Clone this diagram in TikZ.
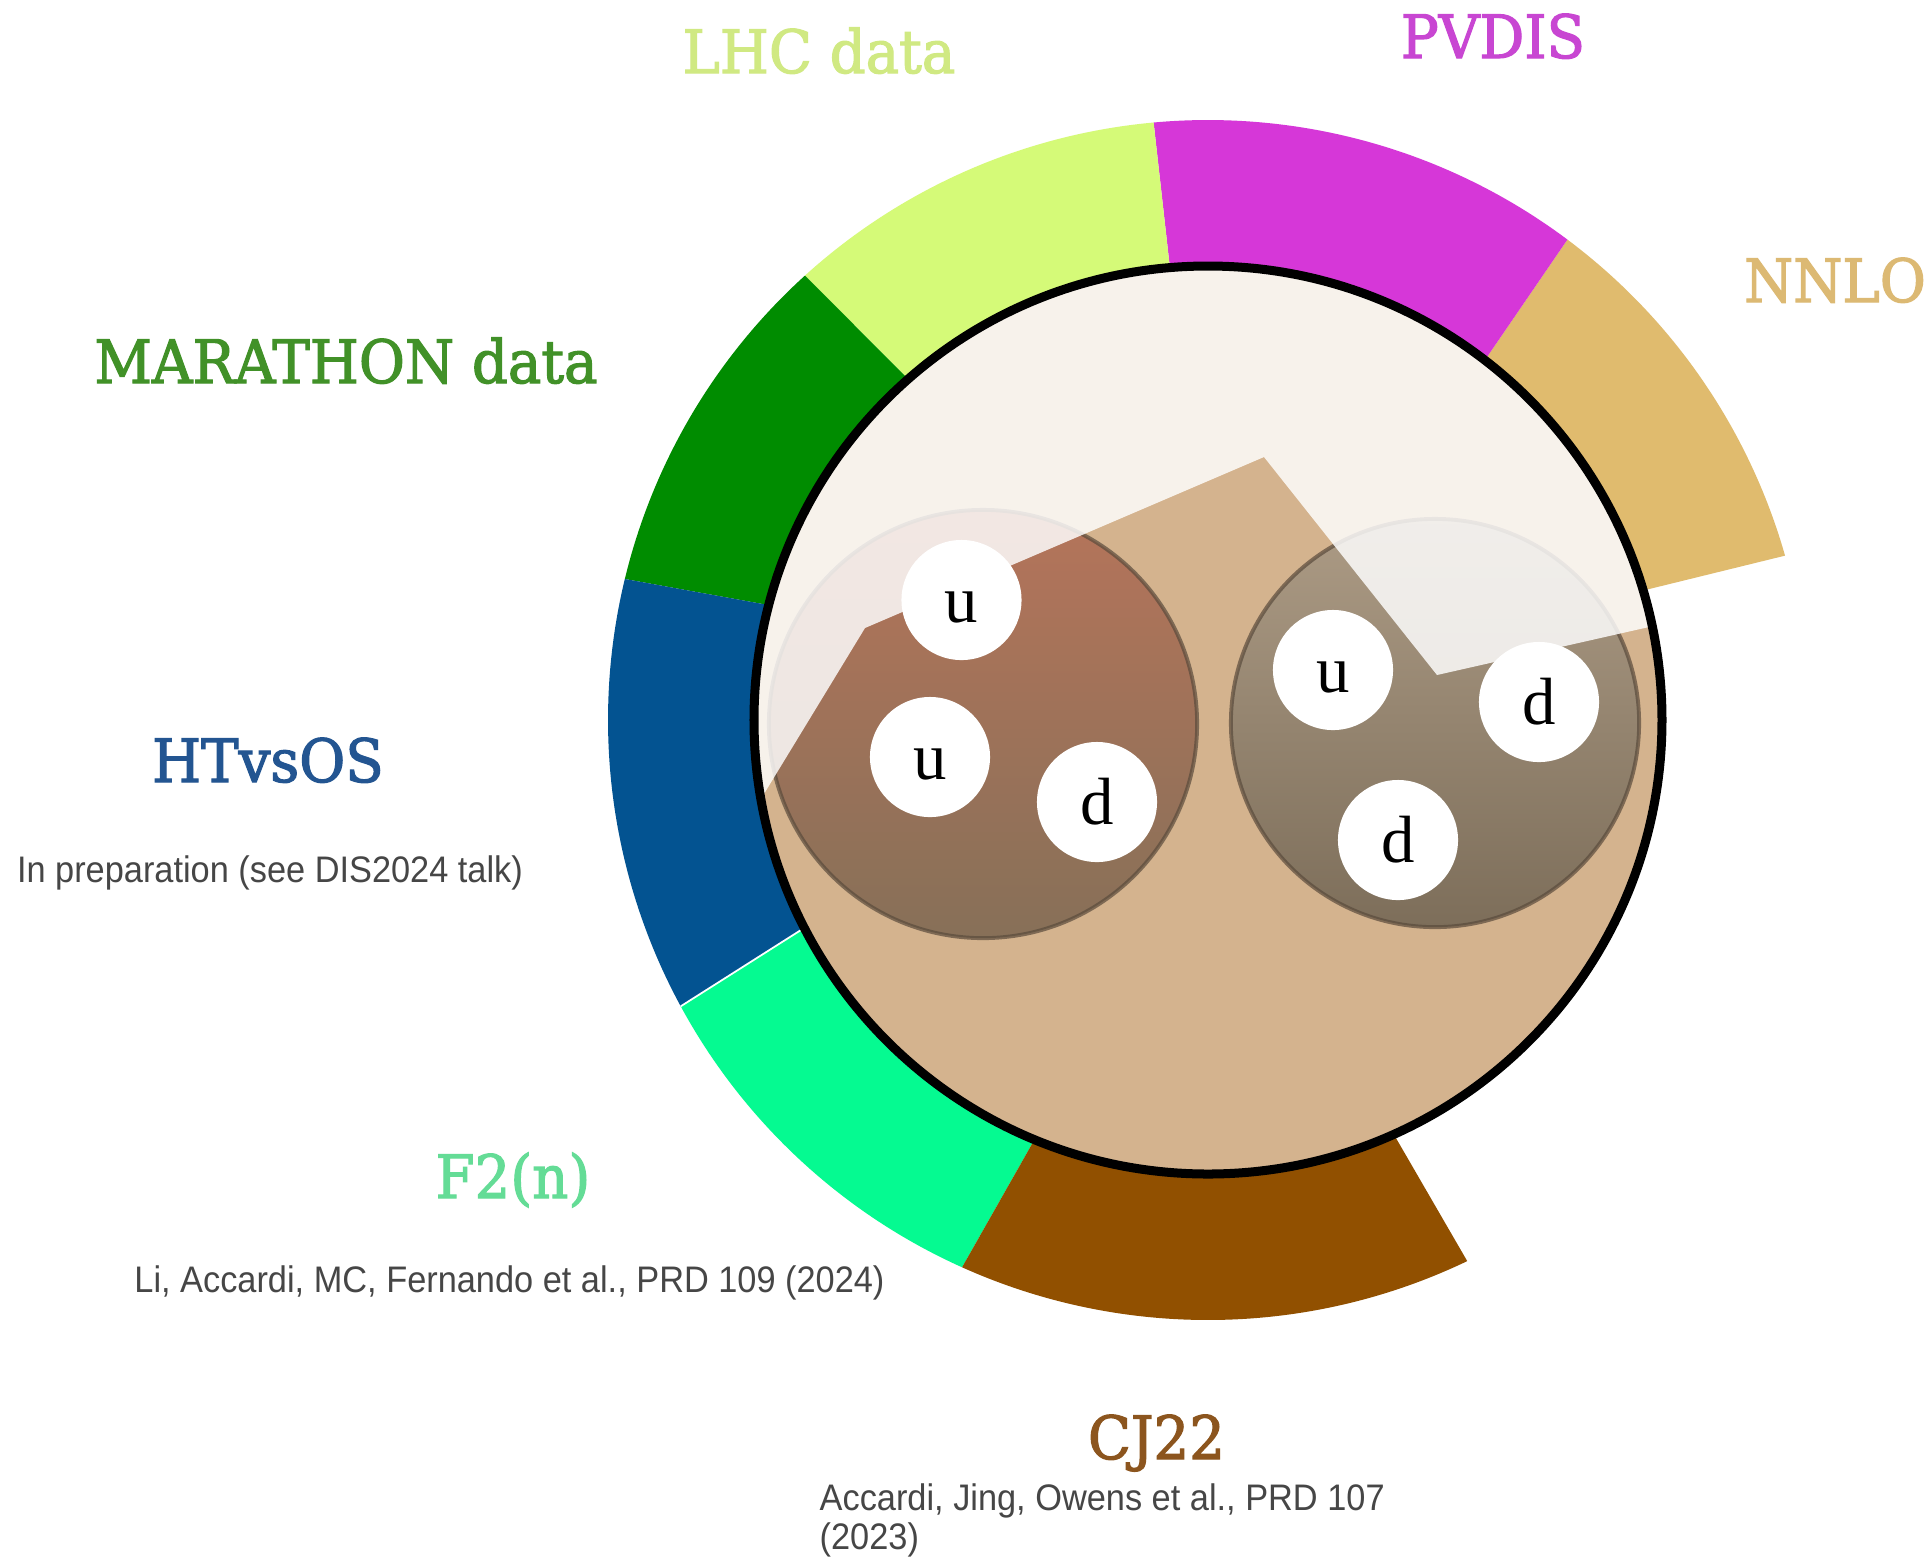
\documentclass[tikz,border=0pt]{standalone}
\usepackage{fontspec}
\usepackage{tikz}
\usetikzlibrary{positioning}

\newfontfamily\titlefont[FakeStretch=0.94,FakeBold=2]{DejaVu Serif}
\newfontfamily\notefont[FakeStretch=0.93]{Liberation Sans}
\newfontfamily\quarkfont{Liberation Serif}

\definecolor{nnlo}{RGB}{224,187,110}
\definecolor{nnlotext}{RGB}{220,185,115}
\definecolor{pvdis}{RGB}{214,55,216}
\definecolor{pvdistext}{RGB}{200,70,210}
\definecolor{lhc}{RGB}{213,250,120}
\definecolor{lhctext}{RGB}{208,233,130}
\definecolor{marathon}{RGB}{0,140,0}
\definecolor{marathontext}{RGB}{65,145,40}
\definecolor{htvsos}{RGB}{3,83,145}
\definecolor{htvsostext}{RGB}{35,85,145}
\definecolor{ftwo}{RGB}{5,250,145}
\definecolor{ftwotext}{RGB}{100,220,150}
\definecolor{cjtt}{RGB}{145,80,0}
\definecolor{cjtttext}{RGB}{140,85,30}
\definecolor{notegray}{RGB}{70,70,70}
\definecolor{nucleus}{RGB}{212,179,142}
\definecolor{protontop}{RGB}{181,116,90}
\definecolor{protonbot}{RGB}{135,112,88}
\definecolor{neutrontop}{RGB}{172,155,133}
\definecolor{neutronbot}{RGB}{125,110,90}
\definecolor{hadronrim}{RGB}{90,75,60}

\begin{document}
\begin{tikzpicture}[x=0.01cm, y=0.01cm,
    title node/.style={anchor=base,inner sep=0pt,font=\titlefont\fontsize{17}{20}\selectfont},
    note node/.style={inner sep=0pt,text=notegray,font=\notefont\fontsize{10.5}{11.1}\selectfont},
    hadron node/.style={circle,minimum size=4.28cm,inner sep=0pt,draw=hadronrim,draw opacity=0.7,line width=1.1pt},
    quark node/.style={circle,fill=white,minimum size=1.2cm,inner sep=0pt,text height=0.44cm,text depth=0cm,
                       font=\quarkfont\fontsize{19}{19}\selectfont}]

  \fill[white] (-1208,-839) rectangle (723,720);
  \useasboundingbox (-1208,-839) rectangle (723,720);

  % outer ring of segments
  \fill[nnlo]     (16.6:450)  -- (15.9:600)  arc[start angle=15.9, end angle=53.2, radius=600]   -- (52.4:450)  -- cycle;
  \fill[pvdis]    (52.4:450)  -- (53.2:600)  arc[start angle=53.2, end angle=95.2, radius=600]   -- (94.8:450)  -- cycle;
  \fill[lhc]      (94.8:450)  -- (95.2:600)  arc[start angle=95.2, end angle=132.2, radius=600]  -- (131.3:450) -- cycle;
  \fill[marathon] (131.3:450) -- (132.2:600) arc[start angle=132.2, end angle=166.4, radius=600] -- (165.3:450) -- cycle;
  \fill[htvsos]   (165.3:450) -- (166.4:600) arc[start angle=166.4, end angle=208.5, radius=600] -- (207.2:450) -- cycle;
  \fill[ftwo]     (207.2:450) -- (208.5:600) arc[start angle=208.5, end angle=245.8, radius=600] -- (247.6:450) -- cycle;
  \fill[cjtt]     (247.6:450) -- (245.8:600) arc[start angle=245.8, end angle=295.6, radius=600] -- (294.1:450) -- cycle;
  \draw[white,line width=0.5pt] (207.2:450) -- (208.5:600);

  % nucleus
  \fill[nucleus] (0,0) circle (454);

  \node[hadron node,top color=protontop,bottom color=protonbot] (p) at (-225,-4) {};
  \node[hadron node,minimum size=4.08cm,top color=neutrontop,bottom color=neutronbot] (n) at (227,-3) {};

  % light cover over the upper part
  \begin{scope}
    \clip (0,0) circle (450);
    \fill[white,opacity=0.83] (-480,-133) -- (-343,92) -- (56,263) -- (229,45) -- (600,129)
      -- (600,600) -- (-600,600) -- (-600,-133) -- cycle;
  \end{scope}

  \draw[line width=0.09cm] (0,0) circle (454);

  \node[quark node] (1) at (-246.5,120) {u};
  \node[quark node] (2) at (-278,-37) {u};
  \node[quark node] (3) at (-111,-82) {d};
  \node[quark node] (4) at (125,50) {u};
  \node[quark node] (5) at (331,18) {d};
  \node[quark node] (6) at (190,-120) {d};

  % names of the segments
  \node[title node,text=lhctext] (lhcname) at (-389,647) {LHC data};
  \node[title node,text=pvdistext] (pvdisname) at (285,662) {PVDIS};
  \node[title node,text=nnlotext] (nnloname) at (627,418) {NNLO};
  \node[title node,text=marathontext] (marathonname) at (-862,337) {MARATHON data};
  \node[title node,text=htvsostext] (htvsosname) at (-940,-62) {HTvsOS};
  \node[title node,text=ftwotext] (ftwoname) at (-695,-478) {F2(n)};
  \node[title node,text=cjtttext] (cjttname) at (-51.5,-739) {CJ22};

  \node[note node,anchor=base] (htvsosref) at (-938,-162) {In preparation (see DIS2024 talk)};
  \node[note node,anchor=base] (ftworef) at (-698.5,-572) {Li, Accardi, MC, Fernando et al., PRD 109 (2024)};
  \node[note node,anchor=north west,align=left] (cjttref) at (-389,-763) {Accardi, Jing, Owens et al., PRD 107\\(2023)};

\end{tikzpicture}
\end{document}
